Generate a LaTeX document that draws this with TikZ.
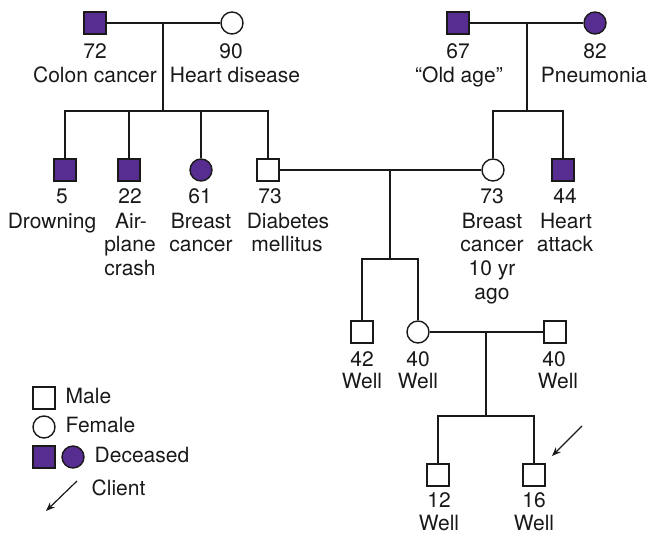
\documentclass[tikz,border=0pt]{standalone}
\usepackage{fontspec}
\setmainfont{TeX Gyre Heros}
\usetikzlibrary{arrows.meta}
\definecolor{dec}{RGB}{88,45,145}
\begin{document}
\begin{tikzpicture}[x=1pt,y=-1pt,line width=1.4pt,
  male/.style={draw=black!90, rectangle, minimum size=22pt, inner sep=0pt, fill=white},
  female/.style={draw=black!90, circle, minimum size=22pt, inner sep=0pt, fill=white},
  dead/.style={fill=dec},
  lbl/.style={inner sep=0pt, anchor=base, font=\fontsize{21}{24}\selectfont, text=black!90},
  lgd/.style={lbl, anchor=base west},
  rel/.style={draw=black!90, line width=1.4pt},
  ptr/.style={draw=black!90, -{Stealth[length=9pt,width=7pt]}, line width=1.2pt}]
\useasboundingbox (0,0) rectangle (649,534);
% relationship anchor points
\coordinate (m1) at (163,23);  \coordinate (s1) at (163,111);
\coordinate (m2) at (527,23);  \coordinate (s2) at (527,111);
\coordinate (m3) at (390,170); \coordinate (s3) at (390,259);
\coordinate (m4) at (486,332); \coordinate (s4) at (486,416);
% generation I
\node[male,dead] (g1) at (95,23) {};
\node[female] (g2) at (232,23) {};
\node[male,dead] (g3) at (458,23) {};
\node[female,dead] (g4) at (595,23) {};
% generation II
\node[male,dead] (a1) at (65,170) {};
\node[male,dead] (a2) at (129,170) {};
\node[female,dead] (a3) at (201,170) {};
\node[male] (a4) at (268,170) {};
\node[female] (a5) at (493,170) {};
\node[male,dead] (a6) at (563,170) {};
% generation III
\node[male] (b1) at (362,332) {};
\node[female] (b2) at (418,332) {};
\node[male] (b3) at (555,332) {};
% generation IV
\node[male] (c1) at (438,475) {};
\node[male] (c2) at (534,475) {};
% connectors
\draw[rel] (g1) -- (g2);
\draw[rel] (m1) -- (s1);
\draw[rel] (a1) -- (a1 |- s1) -- (a4 |- s1) -- (a4);
\draw[rel] (a2) -- (a2 |- s1);
\draw[rel] (a3) -- (a3 |- s1);
\draw[rel] (g3) -- (g4);
\draw[rel] (m2) -- (s2);
\draw[rel] (a5) -- (a5 |- s2) -- (a6 |- s2) -- (a6);
\draw[rel] (a4) -- (a5);
\draw[rel] (m3) -- (s3);
\draw[rel] (b1) -- (b1 |- s3) -- (b2 |- s3) -- (b2);
\draw[rel] (b2) -- (b3);
\draw[rel] (m4) -- (s4);
\draw[rel] (c1) -- (c1 |- s4) -- (c2 |- s4) -- (c2);
% client arrow
\coordinate (p1s) at (582,426); \coordinate (p1e) at (552,456);
\draw[ptr] (p1s) -- (p1e);
% labels generation I
\node[lbl] (t1) at (95,59) {72};
\node[lbl] (t2) at (95,83) {Colon cancer};
\node[lbl] (t3) at (231,59) {90};
\node[lbl] (t4) at (235,83) {Heart disease};
\node[lbl] (t5) at (458,59) {67};
\node[lbl] (t6) at (459,83) {“Old age”};
\node[lbl] (t7) at (595,59) {82};
\node[lbl] (t8) at (594,83) {Pneumonia};
% labels generation II
\node[lbl] (u1) at (62,204) {5};
\node[lbl] (u2) at (52,228.5) {Drowning};
\node[lbl] (u3) at (130,204) {22};
\node[lbl] (u4) at (131,228.5) {Air-};
\node[lbl] (u5) at (130,252) {plane};
\node[lbl] (u6) at (130,276) {crash};
\node[lbl] (u7) at (200,204) {61};
\node[lbl] (u8) at (201,228.5) {Breast};
\node[lbl] (u9) at (201,252) {cancer};
\node[lbl] (u10) at (270,204) {73};
\node[lbl] (u11) at (288,228.5) {Diabetes};
\node[lbl] (u12) at (287,252) {mellitus};
\node[lbl] (u13) at (492,204) {73};
\node[lbl] (u14) at (492,228.5) {Breast};
\node[lbl] (u15) at (492,252) {cancer};
\node[lbl] (u16) at (492,276) {10 yr};
\node[lbl] (u17) at (492,300) {ago};
\node[lbl] (u18) at (565,204) {44};
\node[lbl] (u19) at (566,228.5) {Heart};
\node[lbl] (u20) at (565,252) {attack};
% labels generation III
\node[lbl] (v1) at (362,367) {42};
\node[lbl] (v2) at (362,389) {Well};
\node[lbl] (v3) at (418,367) {40};
\node[lbl] (v4) at (418,389) {Well};
\node[lbl] (v5) at (554,367) {40};
\node[lbl] (v6) at (558,389) {Well};
% labels generation IV
\node[lbl] (w1) at (439,508) {12};
\node[lbl] (w2) at (439,530.5) {Well};
\node[lbl] (w3) at (534,508) {16};
\node[lbl] (w4) at (534,530.5) {Well};
% legend
\node[male] (lm) at (44,398) {};
\node[female] (lf) at (44,427) {};
\node[male,dead] (ld1) at (44,457) {};
\node[female,dead] (ld2) at (73,457) {};
\node[lgd] (lt1) at (65,404) {Male};
\node[lgd] (lt2) at (65,433) {Female};
\node[lgd] (lt3) at (94,463) {Deceased};
\node[lgd] (lt4) at (91,496) {Client};
\coordinate (p2s) at (77,481); \coordinate (p2e) at (46,511);
\draw[ptr] (p2s) -- (p2e);
\end{tikzpicture}
\end{document}
